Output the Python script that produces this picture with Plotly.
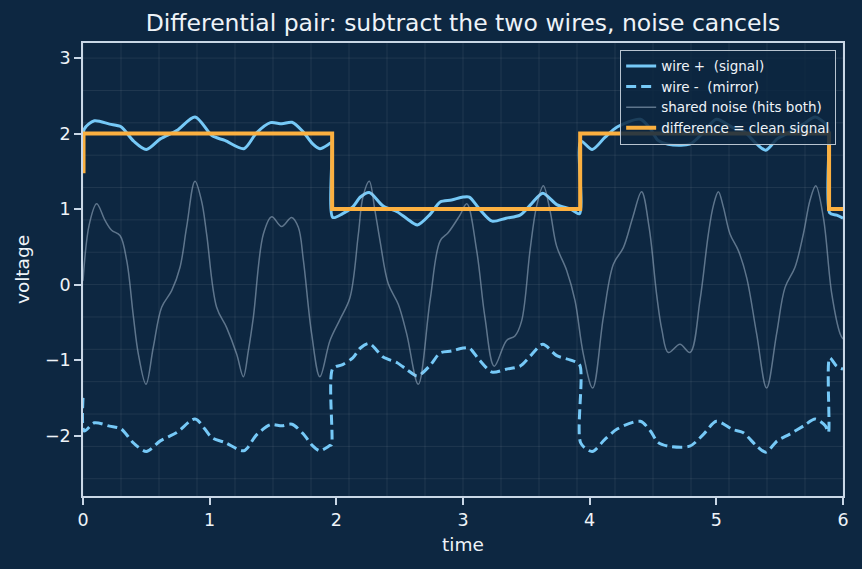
import plotly.graph_objects as go

# ---------------- data ----------------
wire_t = [0.000, 0.010, 0.090, 0.210, 0.300, 0.400, 0.500, 0.610, 0.740, 0.885,
          1.020, 1.120, 1.270, 1.370, 1.480, 1.570, 1.650, 1.740, 1.810, 1.870,
          1.950, 1.962, 1.972, 2.050, 2.130, 2.190, 2.260, 2.370, 2.480, 2.560,
          2.640, 2.740, 2.820, 2.910, 3.000, 3.050, 3.130, 3.230, 3.340, 3.450,
          3.540, 3.630, 3.740, 3.850, 3.920, 3.930, 4.020, 4.120, 4.220, 4.400,
          4.480, 4.540, 4.620, 4.790, 4.900, 5.000, 5.130, 5.210, 5.320, 5.390,
          5.480, 5.580, 5.690, 5.780, 5.860, 5.885, 5.895, 5.950, 6.000]

wire_plus = [1.52, 2.06, 2.17, 2.125, 2.09, 1.90, 1.79, 1.93, 2.04, 2.22,
             1.97, 1.91, 1.80, 2.01, 2.145, 2.13, 2.15, 2.02, 1.87, 1.80,
             1.87, 1.88, 0.89, 0.94, 1.03, 1.16, 1.22, 1.04, 0.965, 0.87,
             0.79, 0.93, 1.095, 1.12, 1.16, 1.16, 1.00, 0.84, 0.88, 0.92,
             1.07, 1.21, 1.06, 1.00, 0.94, 1.90, 1.79, 1.95, 2.09, 2.19,
             2.06, 1.91, 1.86, 1.86, 2.02, 2.19, 2.08, 2.04, 1.86, 1.78,
             1.93, 2.02, 2.13, 2.22, 2.13, 2.04, 0.95, 0.92, 0.88]

wire_minus = [-1.50, -1.94, -1.83, -1.875, -1.91, -2.10, -2.21, -2.07, -1.96, -1.78,
              -2.03, -2.09, -2.20, -1.99, -1.855, -1.87, -1.85, -1.98, -2.13, -2.20,
              -2.13, -2.12, -1.11, -1.06, -0.97, -0.84, -0.78, -0.96, -1.035, -1.13,
              -1.21, -1.07, -0.905, -0.88, -0.84, -0.84, -1.00, -1.16, -1.12, -1.08,
              -0.93, -0.79, -0.94, -1.00, -1.06, -2.10, -2.21, -2.05, -1.91, -1.81,
              -1.94, -2.09, -2.14, -2.14, -1.98, -1.81, -1.92, -1.96, -2.14, -2.22,
              -2.07, -1.98, -1.87, -1.78, -1.87, -1.96, -0.97, -1.08, -1.12]

noise_t = [0.000, 0.050, 0.108, 0.174, 0.226, 0.292, 0.345, 0.397, 0.437, 0.497,
           0.555, 0.621, 0.700, 0.766, 0.818, 0.884, 0.937, 0.976, 1.055, 1.134,
           1.213, 1.266, 1.305, 1.345, 1.424, 1.490, 1.568, 1.647, 1.700, 1.740,
           1.805, 1.870, 1.950, 2.029, 2.108, 2.174, 2.210, 2.260, 2.305, 2.345,
           2.410, 2.489, 2.555, 2.647, 2.740, 2.820, 2.884, 2.976, 3.030, 3.108,
           3.173, 3.247, 3.344, 3.410, 3.463, 3.529, 3.580, 3.634, 3.687, 3.739,
           3.818, 3.884, 3.950, 4.024, 4.108, 4.187, 4.266, 4.340, 4.410, 4.470,
           4.530, 4.570, 4.621, 4.713, 4.792, 4.871, 4.937, 4.977, 5.016, 5.055,
           5.108, 5.174, 5.240, 5.318, 5.397, 5.476, 5.542, 5.621, 5.687, 5.740,
           5.785, 5.845, 5.911, 5.977, 6.000]

noise_v = [0.05, 0.80, 1.07, 0.85, 0.72, 0.65, 0.32, -0.41, -0.92, -1.32,
           -0.83, -0.30, -0.08, 0.23, 0.76, 1.37, 1.10, 0.67, -0.30, -0.57,
           -0.92, -1.22, -0.88, -0.43, 0.67, 0.90, 0.77, 0.89, 0.76, 0.32,
           -0.65, -1.22, -0.74, -0.46, -0.17, 0.67, 1.16, 1.37, 0.98, 0.58,
           0.01, -0.26, -0.65, -1.32, -0.21, 0.58, 0.69, 0.92, 1.07, 0.45,
           -0.43, -1.08, -0.74, -0.68, -0.48, 0.45, 1.03, 1.31, 0.98, 0.51,
           0.19, -0.21, -0.92, -1.37, -0.43, 0.27, 0.49, 0.89, 1.23, 0.75,
           -0.15, -0.60, -0.90, -0.79, -0.90, -0.21, 0.67, 1.05, 1.23, 1.03,
           0.67, 0.45, 0.09, -0.65, -1.37, -0.65, -0.04, 0.23, 0.67, 1.12,
           1.31, 0.89, -0.12, -0.65, -0.72]

clean_t = [0.0, 0.004, 1.967, 3.925, 5.890, 6.0]
clean_v = [1.5, 2.0, 1.0, 2.0, 1.0, 1.0]

x_ticks = [0, 1, 2, 3, 4, 5, 6]
y_ticks = [-2, -1, 0, 1, 2, 3]

# ---------------- styling ----------------
BG = "#0d2741"
BLUE = "#76c9f7"
ORANGE = "#fbb040"
NOISE = "rgba(175,195,215,0.5)"
SPINE = "#c9d7e6"
TXT = "#eef3f8"
FONT = "DejaVu Sans"

fig = go.Figure()
fig.add_trace(go.Scatter(x=wire_t, y=wire_plus, mode="lines", name="wire +  (signal)",
                         line=dict(color=BLUE, width=3, shape="spline", smoothing=0.8)))
fig.add_trace(go.Scatter(x=wire_t, y=wire_minus, mode="lines", name="wire -  (mirror)",
                         line=dict(color=BLUE, width=3, dash="10px,5px", shape="spline", smoothing=0.8)))
fig.add_trace(go.Scatter(x=noise_t, y=noise_v, mode="lines", name="shared noise (hits both)",
                         line=dict(color=NOISE, width=1.5, shape="spline", smoothing=1.0)))
fig.add_trace(go.Scatter(x=clean_t, y=clean_v, mode="lines", name="difference = clean signal",
                         line=dict(color=ORANGE, width=4, shape="hv")))

# faint oscilloscope-style grid
shapes = []
for k in range(21):
    gx = 0.3 * k
    shapes.append(dict(type="line", xref="x", yref="paper", x0=gx, x1=gx, y0=0, y1=1,
                       line=dict(color="rgba(255,255,255,0.08)", width=1), layer="below"))
for k in range(15):
    gy = -3 + k * 6 / 14
    if -2.8 < gy < 3.2:
        shapes.append(dict(type="line", xref="paper", yref="y", x0=0, x1=1, y0=gy, y1=gy,
                           line=dict(color="rgba(255,255,255,0.08)", width=1), layer="below"))

axis_common = dict(showgrid=False, zeroline=False, showline=True, linecolor=SPINE, linewidth=1.5,
                   mirror=True, ticks="outside", ticklen=7, tickwidth=1.5, tickcolor=SPINE,
                   tickfont=dict(family=FONT, size=17.5, color=TXT))

fig.update_layout(
    width=862, height=569,
    paper_bgcolor=BG, plot_bgcolor=BG,
    margin=dict(l=83, r=19, t=43, b=73),
    shapes=shapes,
    title=dict(text="Differential pair: subtract the two wires, noise cancels",
               font=dict(family=FONT, size=23.5, color=TXT),
               x=(83 + 843) / 2 / 862, xanchor="center", y=1 - 23 / 569, yanchor="middle"),
    xaxis=dict(range=[0, 6], tickvals=x_ticks,
               title=dict(text="time", font=dict(family=FONT, size=18.5, color=TXT), standoff=9),
               **axis_common),
    yaxis=dict(range=[-2.8, 3.2], tickvals=y_ticks,
               title=dict(text="voltage", font=dict(family=FONT, size=18.5, color=TXT), standoff=10),
               **axis_common),
    legend=dict(x=0.991, xanchor="right", y=0.985, yanchor="top",
                bgcolor="rgba(13,39,65,0.85)", bordercolor="#b8c4d0", borderwidth=1,
                font=dict(family=FONT, size=13.5, color=TXT), itemwidth=30,
                tracegroupgap=0),
    showlegend=True,
)

fig.write_html("out.html")
